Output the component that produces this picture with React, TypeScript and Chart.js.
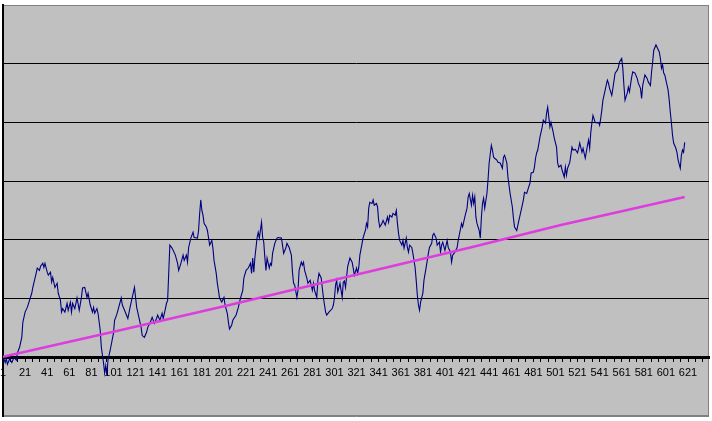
import React, { useEffect, useRef } from 'react';
import { Chart, LineController, LineElement, PointElement, LinearScale } from 'chart.js';

Chart.register(LineController, LineElement, PointElement, LinearScale);

// category labels shown under the axis
const labelCats = [1, 21, 41, 61, 81, 101, 121, 141, 161, 181, 201, 221, 241, 261, 281, 301,
  321, 341, 361, 381, 401, 421, 441, 461, 481, 501, 521, 541, 561, 581, 601, 621];

const obsIdx = [
  1, 3, 4, 5, 7, 9, 11, 13, 14, 16, 18, 19, 21, 23, 25, 27, 28, 31, 32, 34, 35, 37, 38, 39, 41, 42, 44, 45, 46, 48,
  50, 51, 53, 54, 55, 57, 59, 60, 62, 63, 64, 66, 68, 70, 72, 73, 75, 77, 78, 80, 82, 83, 84, 86, 87, 89, 90, 92, 93, 94,
  95, 96, 98, 101, 102, 104, 105, 108, 109, 111, 114, 116, 118, 120, 121, 122, 124, 126, 127, 129, 131, 132, 134, 136, 138, 140, 141, 143, 145, 146,
  148, 149, 150, 151, 152, 154, 157, 159, 160, 162, 164, 165, 167, 168, 169, 171, 173, 174, 177, 178, 179, 180, 181, 182, 183, 185, 186, 187, 188, 190,
  191, 192, 194, 195, 196, 197, 199, 201, 202, 204, 205, 206, 208, 209, 212, 214, 216, 218, 219, 221, 223, 225, 226, 227, 228, 229, 231, 232, 233, 235,
  236, 237, 238, 239, 240, 242, 243, 244, 245, 247, 249, 250, 253, 254, 255, 257, 258, 260, 262, 263, 264, 265, 267, 268, 269, 271, 272, 273, 274, 276,
  277, 279, 281, 282, 283, 285, 286, 287, 289, 290, 291, 292, 293, 294, 296, 299, 300, 301, 302, 303, 304, 306, 308, 309, 310, 311, 313, 315, 317, 318,
  319, 321, 322, 323, 324, 326, 327, 329, 330, 331, 332, 333, 335, 336, 337, 339, 340, 341, 342, 344, 345, 347, 349, 350, 351, 353, 354, 356, 357, 358,
  359, 360, 362, 363, 364, 366, 367, 368, 369, 371, 372, 374, 375, 376, 377, 378, 379, 380, 381, 382, 384, 385, 386, 387, 389, 390, 391, 393, 394, 396,
  397, 398, 399, 401, 403, 404, 406, 407, 408, 410, 412, 413, 415, 416, 417, 419, 421, 422, 423, 425, 426, 427, 428, 429, 430, 432, 433, 434, 435, 436,
  437, 439, 440, 441, 443, 444, 445, 446, 448, 449, 451, 453, 454, 455, 457, 458, 460, 462, 463, 464, 466, 467, 469, 471, 472, 473, 475, 476, 478, 479,
  481, 482, 483, 484, 485, 487, 489, 490, 492, 493, 494, 495, 496, 497, 499, 500, 502, 503, 504, 506, 507, 509, 510, 511, 512, 514, 516, 517, 519, 521,
  522, 523, 525, 526, 528, 530, 531, 532, 533, 534, 535, 537, 539, 540, 541, 542, 543, 544, 546, 548, 549, 550, 552, 553, 555, 557, 558, 559, 561, 562,
  563, 564, 566, 567, 568, 570, 571, 573, 575, 576, 578, 579, 580, 582, 584, 585, 587, 588, 589, 590, 592, 593, 595, 596, 597, 598, 599, 600, 601, 603,
  604, 605, 606, 607, 608, 610, 611, 612, 614, 615, 616, 617, 618,
];
const obsVal = [
  0.2, -0.9, -0.2, -1.2, -0.3, -0.9, 0, -0.5, 0.7, 1.7, 3.4, 6.0, 7.7, 8.5, 9.7, 10.9, 11.9, 14.3, 15.2, 14.8, 15.5, 16.0, 15.3, 16.0, 14.5, 14.0, 14.5, 12.8, 13.6, 11.9,
  12.6, 10.9, 9.7, 7.7, 8.3, 7.7, 9.2, 8.0, 9.4, 7.7, 9.2, 8.3, 10.1, 8.0, 10.2, 11.8, 11.9, 10.2, 10.9, 8.9, 7.7, 8.5, 7.5, 8.3, 7.5, 4.6, 1.7, -1.0, -2.7, -1.4,
  -3.1, -0.5, 1.2, 4.1, 6.3, 7.3, 8.0, 10.1, 8.9, 8.0, 6.6, 8.5, 10.2, 11.9, 10.2, 8.5, 6.8, 5.1, 3.7, 3.4, 4.3, 5.1, 5.8, 6.8, 5.8, 6.6, 7.2, 6.3, 7.5, 6.6,
  8.3, 9.2, 9.7, 14.3, 19.1, 18.6, 17.4, 16.0, 14.8, 16.0, 17.4, 16.5, 17.4, 16.2, 18.7, 20.3, 21.3, 20.4, 20.3, 21.6, 24.5, 26.8, 25.0, 24.2, 22.8, 22.2, 21.6, 20.4, 19.1, 19.9,
  18.6, 16.5, 14.3, 12.6, 11.4, 10.1, 9.4, 10.2, 8.9, 7.5, 6.0, 4.8, 5.5, 6.3, 7.2, 8.5, 10.1, 11.4, 13.5, 14.8, 15.2, 16.0, 14.3, 16.9, 14.5, 17.0, 20.4, 21.3, 20.3, 23.0,
  20.4, 19.6, 17.0, 14.8, 16.9, 15.2, 16.0, 15.7, 17.7, 19.4, 20.3, 20.4, 20.3, 19.1, 17.7, 18.6, 19.4, 18.7, 17.4, 14.5, 12.6, 12.3, 10.2, 11.4, 14.8, 16.2, 15.7, 16.2, 14.8, 13.5,
  12.6, 13.1, 11.4, 12.6, 11.4, 10.2, 13.1, 14.3, 13.5, 11.8, 10.2, 8.9, 7.7, 7.2, 7.7, 8.3, 8.9, 10.1, 12.3, 13.1, 11.1, 12.6, 10.2, 12.8, 13.0, 11.9, 15.5, 16.9, 16.2, 15.2,
  14.0, 15.2, 14.3, 15.3, 17.4, 19.4, 20.4, 21.6, 22.8, 22.2, 25.4, 26.4, 26.2, 26.8, 25.9, 26.2, 25.6, 23.3, 22.2, 22.8, 23.3, 22.5, 23.9, 23.0, 24.2, 23.9, 24.5, 24.2, 25.0, 22.8,
  21.1, 19.9, 19.1, 19.9, 18.6, 20.3, 18.7, 17.9, 19.1, 18.7, 17.7, 15.3, 13.1, 10.6, 8.9, 8.0, 9.4, 10.2, 10.9, 13.1, 15.3, 16.5, 17.7, 18.7, 19.4, 20.8, 21.1, 20.3, 19.1, 19.6,
  17.9, 19.1, 19.6, 18.2, 19.9, 18.7, 17.9, 16.2, 17.4, 17.9, 18.7, 19.9, 21.8, 22.8, 22.2, 23.9, 25.4, 27.3, 27.9, 25.9, 27.6, 26.2, 27.3, 23.9, 22.8, 21.6, 20.3, 23.9, 26.2, 27.1,
  25.4, 27.9, 30.2, 33.1, 36.1, 35.3, 34.1, 33.9, 33.6, 33.2, 33.1, 32.2, 34.1, 34.4, 33.1, 30.7, 27.9, 25.6, 23.7, 22.2, 21.6, 22.5, 24.2, 25.9, 26.8, 28.1, 27.9, 28.5, 29.7, 31.4,
  31.5, 32.4, 33.9, 34.8, 35.3, 37.5, 39.2, 40.4, 39.9, 41.6, 42.6, 40.9, 39.2, 40.0, 38.3, 37.3, 35.8, 33.1, 32.4, 32.7, 31.9, 30.7, 32.4, 31.0, 32.2, 33.2, 35.8, 35.3, 35.4, 34.8,
  35.6, 36.5, 34.9, 35.6, 33.9, 36.1, 37.0, 35.6, 38.3, 39.9, 41.2, 40.0, 39.9, 40.0, 39.5, 40.7, 42.1, 43.8, 45.5, 47.2, 46.7, 45.8, 44.6, 45.8, 48.4, 48.9, 49.4, 50.3, 50.9, 49.2,
  46.3, 43.8, 45.0, 46.0, 45.2, 47.7, 48.6, 48.4, 47.5, 46.7, 45.8, 44.1, 46.3, 48.1, 47.5, 46.9, 46.3, 48.6, 50.3, 52.3, 53.2, 52.8, 52.0, 50.9, 49.2, 49.8, 48.4, 48.1, 47.2, 45.5,
  43.8, 41.7, 39.9, 37.8, 36.5, 35.6, 34.9, 33.6, 32.2, 34.4, 35.3, 34.9, 36.6,
];

// trend line
const trendIdx = [1, 102, 206, 310, 424, 505, 618];
const trendVal = [0.1, 4.4, 8.9, 13.6, 18.7, 22.5, 27.3];

const plotBg = {
  id: 'plotBg',
  beforeDraw(chart: any) {
    const { ctx, chartArea: a } = chart;
    ctx.save();
    ctx.fillStyle = '#c0c0c0';
    ctx.fillRect(a.left, a.top, a.right - a.left, a.bottom - a.top);
    ctx.strokeStyle = '#808080';
    ctx.lineWidth = 1;
    ctx.strokeRect(a.left + 0.5, a.top + 0.5, a.right - a.left - 1, a.bottom - a.top - 1);
    ctx.restore();
  },
};

const App: React.FC = () => {
  const chartRef = useRef<HTMLCanvasElement>(null);
  const chartInstance = useRef<Chart | null>(null);

  useEffect(() => {
    if (!chartRef.current) return;
    const ctx = chartRef.current.getContext('2d');
    if (!ctx) return;
    if (chartInstance.current) chartInstance.current.destroy();

    chartInstance.current = new Chart(ctx, {
      type: 'line',
      data: {
        datasets: [
          {
            label: 'Trend',
            data: trendIdx.map((x, i) => ({ x, y: trendVal[i] })),
            borderColor: '#dd3ddd',
            borderWidth: 2.5,
            pointRadius: 0,
            tension: 0,
          },
          {
            label: 'Series',
            data: obsIdx.map((x, i) => ({ x, y: obsVal[i] })),
            borderColor: '#000080',
            borderWidth: 1.1,
            pointRadius: 0,
            tension: 0,
          },
        ],
      },
      options: {
        responsive: false,
        animation: false,
        events: [],
        layout: { padding: { left: 3, right: 3, top: 5, bottom: 5 } },
        scales: {
          x: {
            type: 'linear',
            min: 1,
            max: 640,
            position: { y: 0 } as any,
            afterBuildTicks: (scale: any) => {
              const t = [];
              for (let k = 0; 1 + (k * 20) / 3 <= 640; k++) t.push({ value: 1 + (k * 20) / 3 });
              scale.ticks = t;
            },
            afterFit: (scale: any) => {
              scale.paddingLeft = 0;
              scale.paddingRight = 0;
            },
            grid: { drawOnChartArea: false, drawTicks: true, tickLength: 3, color: '#000' },
            border: { color: '#000', width: 3 },
            ticks: {
              autoSkip: false,
              maxRotation: 0,
              padding: 6,
              color: '#000',
              font: { family: "'Liberation Sans Narrow', 'Arial Narrow', 'Liberation Sans', Arial, sans-serif", size: 11 },
              callback: (_v: any, i: number) =>
                i % 3 === 0 && labelCats[i / 3] !== undefined ? String(labelCats[i / 3]) : '',
            },
          },
          y: {
            type: 'linear',
            min: -10,
            max: 60,
            ticks: { display: false, stepSize: 10 },
            grid: {
              drawTicks: false,
              lineWidth: 1,
              color: (c: any) => (c.tick && (c.tick.value === -10 || c.tick.value === 60) ? '#808080' : '#000'),
            },
            border: { color: '#000', width: 2 },
          },
        },
        plugins: { legend: { display: false }, tooltip: { enabled: false } },
      },
      plugins: [plotBg],
    });

    return () => {
      if (chartInstance.current) {
        chartInstance.current.destroy();
        chartInstance.current = null;
      }
    };
  }, []);

  return (
    <div style={{ position: 'absolute', left: 0, top: 0, width: 712, height: 421 }}>
      <canvas ref={chartRef} width={712} height={421} style={{ display: 'block' }}></canvas>
    </div>
  );
};

export default App;
